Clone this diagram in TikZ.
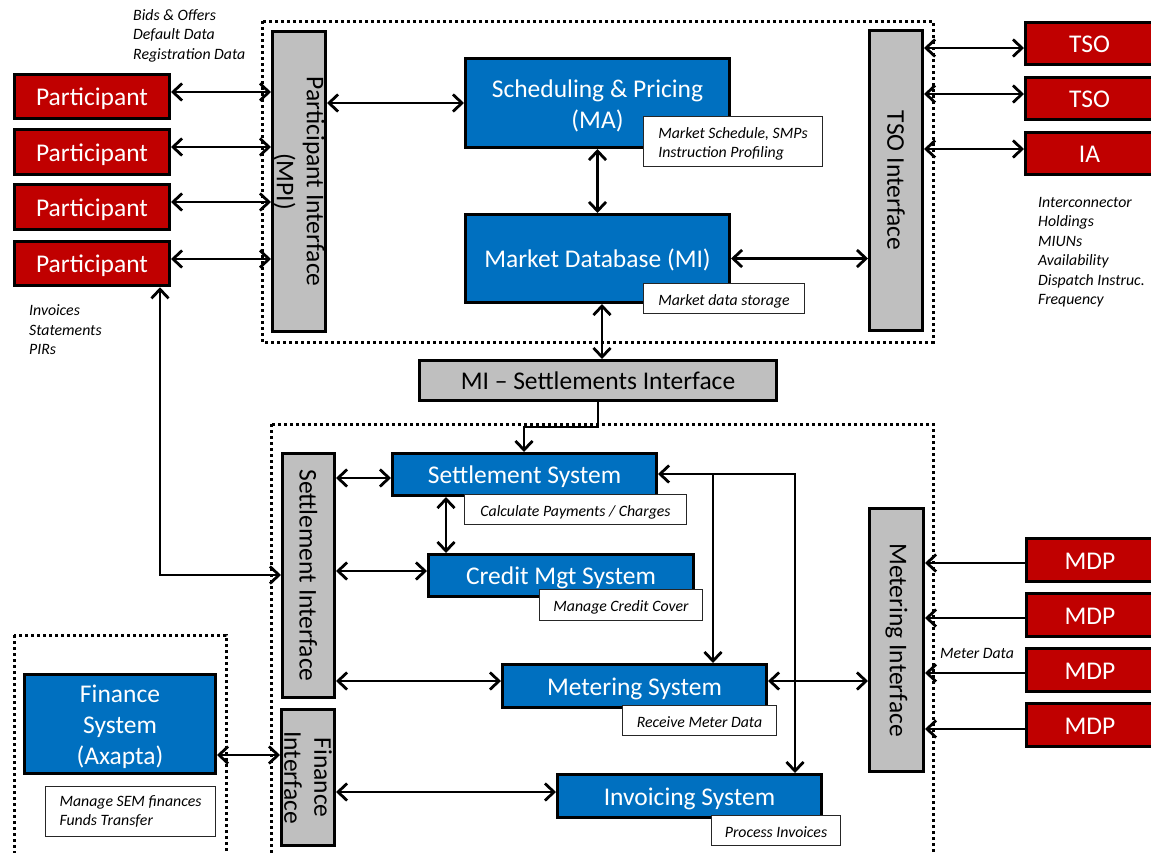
\documentclass[tikz,border=0pt]{standalone}
\usepackage{fontspec}
\setmainfont{Carlito}
\usetikzlibrary{arrows.meta}
\definecolor{semred}{HTML}{C00000}
\definecolor{semblue}{HTML}{0070C0}
\definecolor{semgrey}{HTML}{BFBFBF}
\newcommand\bigstrut{\rule{0pt}{24pt}}
\newcommand\smallstrut{\rule{0pt}{15pt}}
\begin{document}
\begin{tikzpicture}[x=1pt,y=-1pt,
  box/.style={draw=black, line width=3pt, inner sep=0pt, text=white, font=\fontsize{25.5}{31}\selectfont, align=center},
  oneline/.style={text height=18pt, text depth=0pt},
  redbox/.style={box, fill=semred},
  bluebox/.style={box, fill=semblue},
  iface/.style={box, fill=semgrey},
  ifacetext/.style={rotate=-90, inner sep=0pt, align=center, text=black, font=\fontsize{25.5}{30}\selectfont},
  callout/.style={draw=black!85, line width=1.2pt, fill=white, inner sep=0pt, align=left, font=\fontsize{15.8}{19}\selectfont\itshape},
  calloutone/.style={callout, text height=13pt, text depth=0pt},
  note/.style={inner sep=0pt, anchor=base west, font=\fontsize{15.8}{19}\selectfont\itshape},
  tip/.tip={Straight Barb[length=9pt,width=17pt]},
  link/.style={line width=2.8pt, tip-tip},
  feed/.style={line width=2.8pt, -tip},
  zone/.style={line width=3pt, dash pattern=on 3pt off 3pt}
]
\useasboundingbox (0,0) rectangle (1151,852);
\clip (0,0) rectangle (1151,852);

% dotted zones
\draw[zone] (262,21) rectangle (933,342);
\draw[zone] (271,424) rectangle (933,880);
\draw[zone] (14,635) rectangle (226,880);

% participants
\node[redbox, oneline, minimum width=155, minimum height=44.5] (P1) at (92,96.5) {Participant};
\node[redbox, oneline, minimum width=155, minimum height=44.5] (P2) at (92,152) {Participant};
\node[redbox, oneline, minimum width=155, minimum height=44.5] (P3) at (92,207) {Participant};
\node[redbox, oneline, minimum width=155, minimum height=44.5] (P4) at (92,263.5) {Participant};

% interfaces
\node[iface, minimum width=53, minimum height=300] (MPI) at (299,181.5) {};
\node[ifacetext] (MPIt) at (MPI.center) {Participant Interface\\(MPI)};
\node[iface, minimum width=53, minimum height=300] (TSOI) at (896,180.5) {};
\node[ifacetext] (TSOIt) at (TSOI.center) {TSO Interface};
\node[iface, oneline, minimum width=357, minimum height=40, text=black] (MIS) at (598,380.5) {MI -- Settlements Interface};
\node[iface, minimum width=52, minimum height=244] (SI) at (308.5,575.5) {};
\node[ifacetext] (SIt) at (SI.center) {Settlement Interface};
\node[iface, minimum width=54, minimum height=263] (MTI) at (896.5,640) {};
\node[ifacetext] (MTIt) at (MTI.center) {Metering Interface};
\node[iface, minimum width=53, minimum height=136] (FI) at (308,777.5) {};
\node[ifacetext] (FIt) at (FI.center) {Finance\\Interface};

% systems
\node[bluebox, minimum width=264, minimum height=89] (SP) at (597.5,103) {\bigstrut Scheduling \& Pricing\\(MA)};
\node[bluebox, oneline, minimum width=264, minimum height=88] (MI) at (597.5,258.5) {Market Database (MI)};
\node[bluebox, oneline, minimum width=264, minimum height=42] (SS) at (524.5,474.5) {Settlement System};
\node[bluebox, oneline, minimum width=265, minimum height=42] (CM) at (561,575.5) {Credit Mgt System};
\node[bluebox, oneline, minimum width=264, minimum height=43] (MS) at (634.5,686) {Metering System};
\node[bluebox, oneline, minimum width=264, minimum height=43] (INV) at (689.5,796) {Invoicing System};
\node[bluebox, minimum width=191, minimum height=99] (FS) at (120,724) {\bigstrut Finance\\System\\(Axapta)};

% external parties
\node[redbox, oneline, minimum width=128, minimum height=42] (T1) at (1089.5,43.5) {TSO};
\node[redbox, oneline, minimum width=128, minimum height=42] (T2) at (1089.5,98) {TSO};
\node[redbox, oneline, minimum width=128, minimum height=42] (IA) at (1089.5,153.5) {IA};
\node[redbox, oneline, minimum width=127, minimum height=43] (M1) at (1090,560) {MDP};
\node[redbox, oneline, minimum width=127, minimum height=43] (M2) at (1090,615) {MDP};
\node[redbox, oneline, minimum width=127, minimum height=43] (M3) at (1090,670) {MDP};
\node[redbox, oneline, minimum width=127, minimum height=43] (M4) at (1090,725) {MDP};

% callouts
\node[callout, minimum width=179, minimum height=50] (cSP) at (733,141.5) {\smallstrut Market Schedule, SMPs\\Instruction Profiling};
\node[calloutone, minimum width=161, minimum height=30] (cMI) at (724,298.5) {Market data storage};
\node[calloutone, minimum width=222, minimum height=30] (cSS) at (575.5,509.5) {Calculate Payments / Charges};
\node[calloutone, minimum width=163, minimum height=31] (cCM) at (621,605) {Manage Credit Cover};
\node[calloutone, minimum width=154, minimum height=30] (cMS) at (699.5,720.5) {Receive Meter Data};
\node[calloutone, minimum width=129, minimum height=30] (cINV) at (776,830.5) {Process Invoices};
\node[callout, minimum width=170, minimum height=50] (cFS) at (130.5,811.5) {Manage SEM finances\\Funds Transfer};

% notes
\node[note] (n1) at (133,20) {Bids \& Offers};
\node[note] (n2) at (133,39.5) {Default Data};
\node[note] (n3) at (133,59) {Registration Data};
\node[note] (n4) at (29,315) {Invoices};
\node[note] (n5) at (29,335) {Statements};
\node[note] (n6) at (29,354) {PIRs};
\node[note] (r1) at (1038,207) {Interconnector};
\node[note] (r2) at (1038,226.5) {Holdings};
\node[note] (r3) at (1038,246) {MIUNs};
\node[note] (r4) at (1038,265.5) {Availability};
\node[note] (r5) at (1038,285) {Dispatch Instruc.};
\node[note] (r6) at (1038,304.5) {Frequency};
\node[note] (md) at (940,658) {Meter Data};

% connectors
\draw[link] (P1.east |- 0,92) -- (MPI.west |- 0,92);
\draw[link] (P2.east |- 0,147) -- (MPI.west |- 0,147);
\draw[link] (P3.east |- 0,202) -- (MPI.west |- 0,202);
\draw[link] (P4.east |- 0,259) -- (MPI.west |- 0,259);
\draw[link] (MPI.east |- SP.west) -- (SP.west);
\draw[link] (SP.south) -- (MI.north);
\draw[link] (MI.east) -- (MI.east -| TSOI.west);
\draw[link] (TSOI.east |- 0,48) -- (T1.west |- 0,48);
\draw[link] (TSOI.east |- 0,94) -- (T2.west |- 0,94);
\draw[link] (TSOI.east |- 0,149) -- (IA.west |- 0,149);
\draw[link] (MI.south -| 602,0) -- (MIS.north -| 602,0);

\coordinate (d1) at (598,427);
\coordinate (d2) at (524,427);
\draw[feed] (MIS.south -| d1) -- (d1) -- (d2) -- (SS.north -| d2);

\draw[link] (SI.east |- 0,478) -- (SS.west |- 0,478);
\draw[link] (SS.south -| 446,0) -- (CM.north -| 446,0);
\draw[link] (SI.east |- 0,571) -- (CM.west |- 0,571);

\coordinate (e1) at (160,575);
\draw[link] (P4.south -| e1) -- (e1) -- (SI.west |- e1);

\coordinate (c1) at (795,474);
\coordinate (c2) at (713,474);
\draw[link] (SS.east |- c1) -- (c1) -- (INV.north -| c1);
\draw[feed] (c2) -- (MS.north -| c2);

\draw[link] (SI.east |- 0,681) -- (MS.west |- 0,681);
\draw[link] (MS.east |- 0,681) -- (MTI.west |- 0,681);

\draw[feed] (M1.west |- 0,563) -- (MTI.east |- 0,563);
\draw[feed] (M2.west |- 0,618) -- (MTI.east |- 0,618);
\draw[feed] (M3.west |- 0,673) -- (MTI.east |- 0,673);
\draw[feed] (M4.west |- 0,729) -- (MTI.east |- 0,729);

\draw[link] (FS.east |- 0,755) -- (FI.west |- 0,755);
\draw[link] (FI.east |- 0,792) -- (INV.west |- 0,792);
\end{tikzpicture}
\end{document}
